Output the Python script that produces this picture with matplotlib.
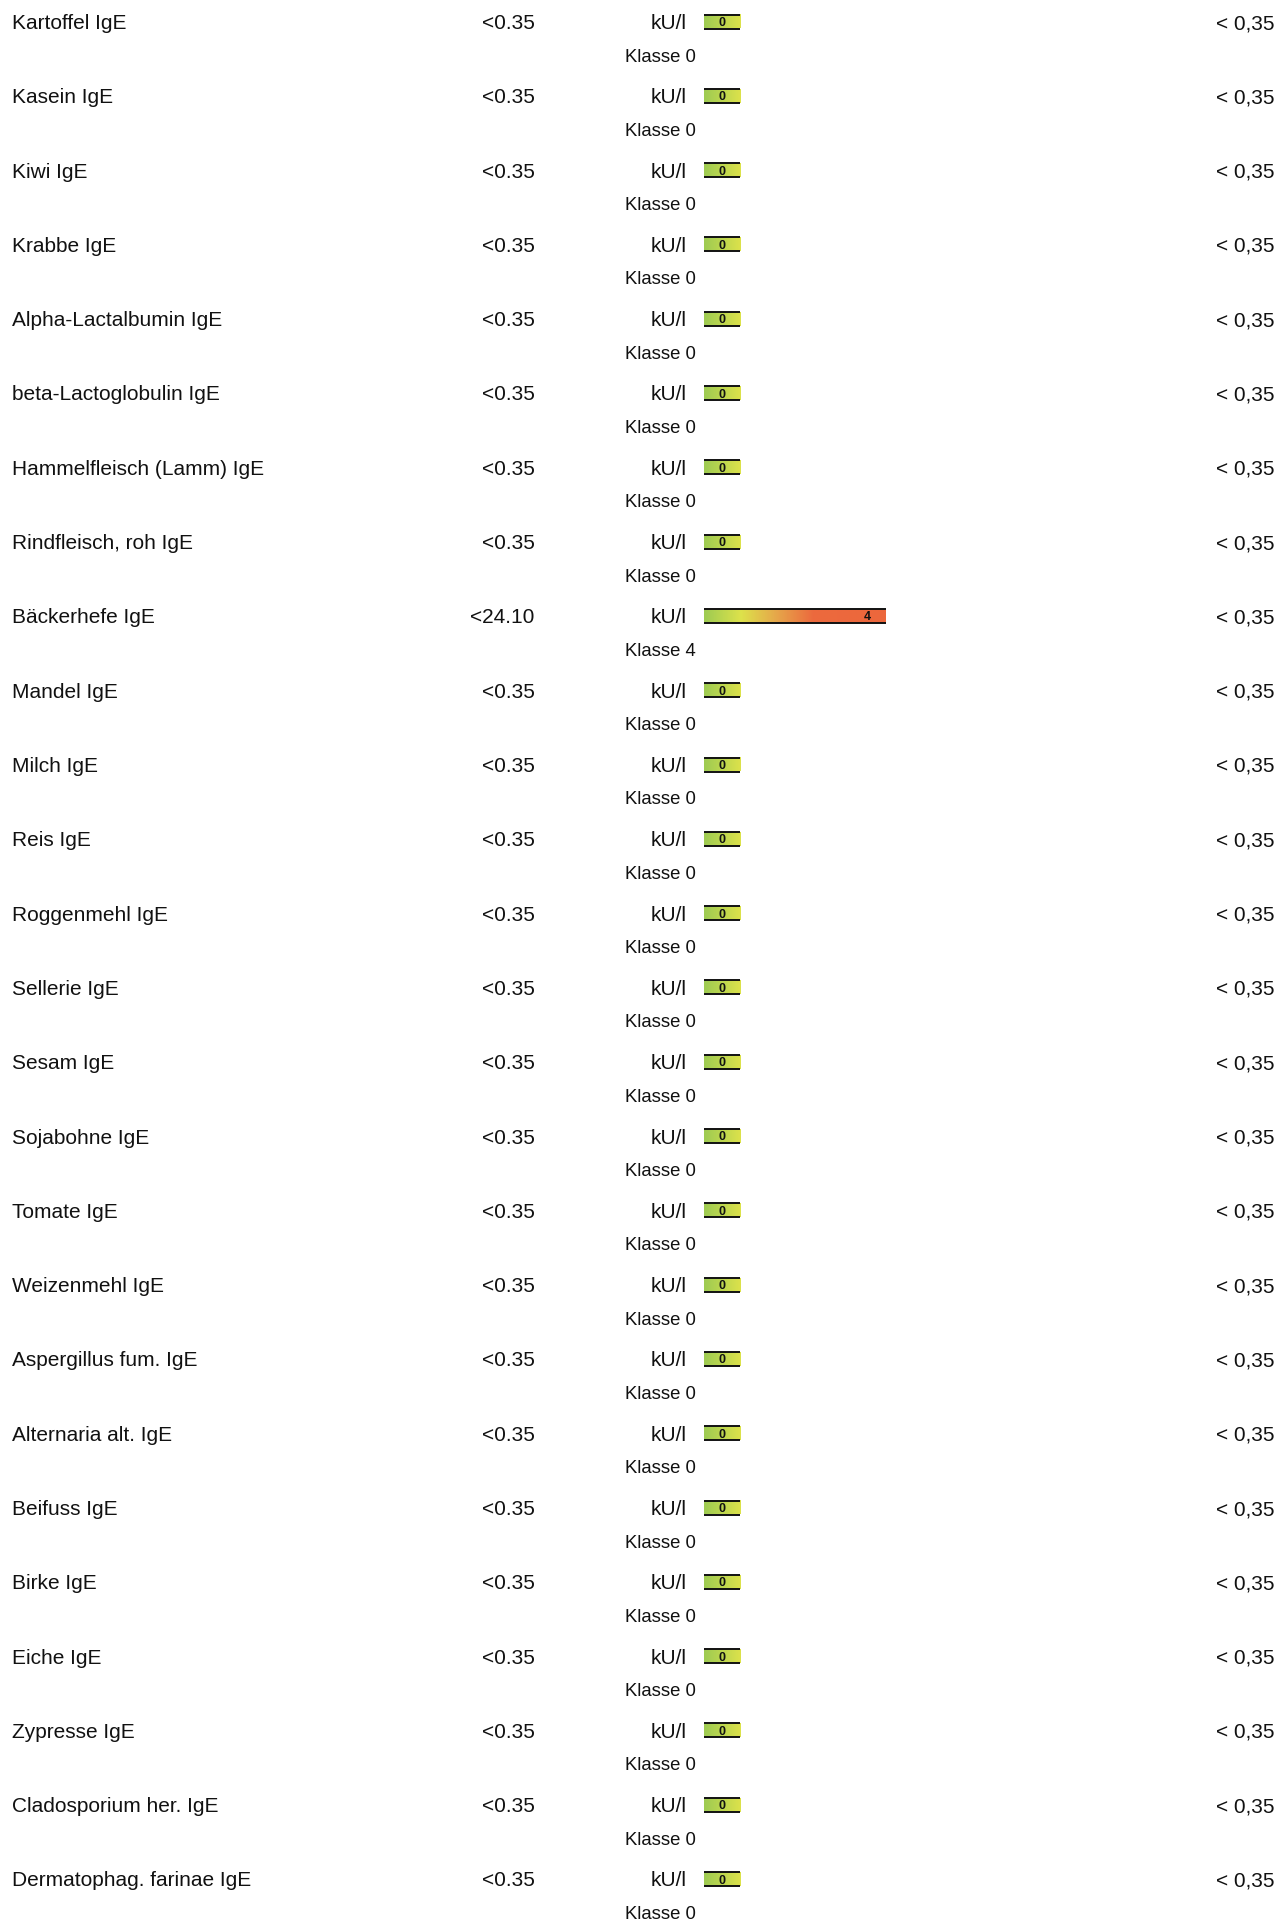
import numpy as np
import matplotlib
matplotlib.use("Agg")
import matplotlib.pyplot as plt
from matplotlib.colors import LinearSegmentedColormap

# allergen panel values
names = [
    "Kartoffel IgE", "Kasein IgE", "Kiwi IgE", "Krabbe IgE",
    "Alpha-Lactalbumin IgE", "beta-Lactoglobulin IgE",
    "Hammelfleisch (Lamm) IgE", "Rindfleisch, roh IgE", "Bäckerhefe IgE",
    "Mandel IgE", "Milch IgE", "Reis IgE", "Roggenmehl IgE", "Sellerie IgE",
    "Sesam IgE", "Sojabohne IgE", "Tomate IgE", "Weizenmehl IgE",
    "Aspergillus fum. IgE", "Alternaria alt. IgE", "Beifuss IgE",
    "Birke IgE", "Eiche IgE", "Zypresse IgE", "Cladosporium her. IgE",
    "Dermatophag. farinae IgE",
]
values = ["<0.35"] * 8 + ["<24.10"] + ["<0.35"] * 17
classes = [0] * 8 + [4] + [0] * 17
units = ["kU/l"] * 26
ref_ranges = ["< 0,35"] * 26

plt.rcParams["font.family"] = ["Liberation Sans", "DejaVu Sans"]

W, H = 1278, 1921
fig = plt.figure(figsize=(W / 100, H / 100), dpi=100)
ax = fig.add_axes([0, 0, 1, 1])
ax.set_xlim(0, W)
ax.set_ylim(H, 0)
ax.axis("off")

cmap = LinearSegmentedColormap.from_list(
    "klasse",
    [(0.0, "#9ecb52"), (0.2, "#dde24b"), (0.4, "#e6a64a"),
     (0.6, "#ec6a3e"), (1.0, "#ec673c")])

y0, step = 21.5, 74.3
seg_w, bar_x0, bar_h = 36.4, 704, 14
txt = "#111111"

for i, (nm, val, cls, un, rr) in enumerate(zip(names, values, classes, units, ref_ranges)):
    y = y0 + i * step
    base = y + 7.5
    ax.text(12, base, nm, fontsize=15, color=txt, ha="left", va="baseline")
    ax.text(534.5, base, val, fontsize=15, color=txt, ha="right", va="baseline")
    ax.text(686.5, base, un, fontsize=15, color=txt, ha="right", va="baseline")
    ax.text(1274, base, rr, fontsize=15, color=txt, ha="right", va="baseline")
    ax.text(625, y + 40, f"Klasse {cls}", fontsize=13.3, color=txt,
            ha="left", va="baseline")

    # gradient bar, one segment per class step
    frac = (cls + 1) / 5
    x1 = bar_x0 + (cls + 1) * seg_w
    grad = np.linspace(0, frac, 200).reshape(1, -1)
    ax.imshow(grad, cmap=cmap, vmin=0, vmax=1, aspect="auto",
              extent=[bar_x0, x1, y + bar_h / 2, y - bar_h / 2],
              interpolation="bilinear", zorder=2)
    ax.hlines([y - bar_h / 2, y + bar_h / 2], bar_x0, x1, colors="#111111",
              linewidth=1.4, zorder=3)
    ax.text(bar_x0 + (cls + 0.5) * seg_w, y + 4.5, str(cls), fontsize=9,
            fontweight="bold", color=txt, ha="center", va="baseline", zorder=4)

ax.set_xlim(0, W)
ax.set_ylim(H, 0)
fig.savefig("out.png", dpi=100)
